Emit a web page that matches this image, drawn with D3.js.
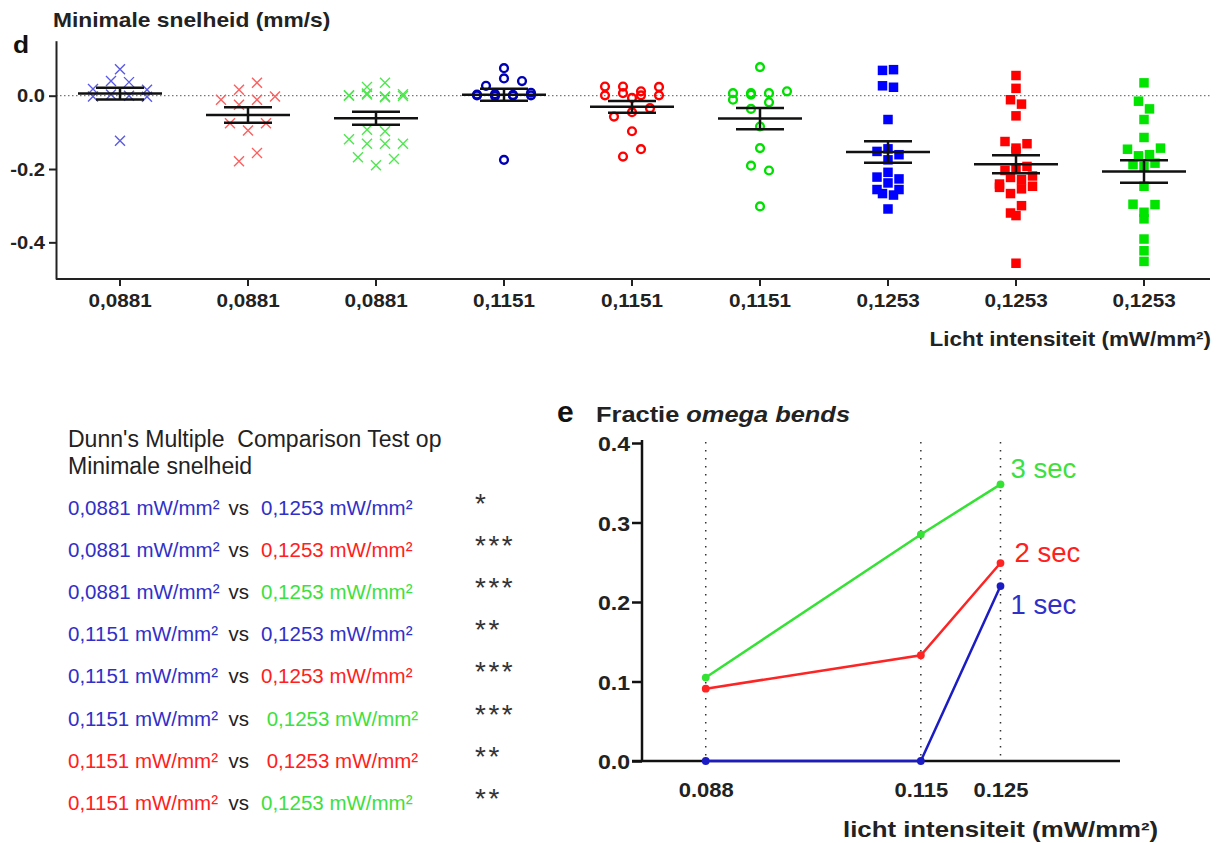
<!DOCTYPE html>
<html>
<head>
<meta charset="utf-8">
<script src="https://cdnjs.cloudflare.com/ajax/libs/d3/7.8.5/d3.min.js"></script>
<style>
  body { margin: 0; background: #fff; }
  svg { display: block; }
  text { font-family: "Liberation Sans", Arial, sans-serif; }
</style>
</head>
<body>
<div id="chart"></div>
<script>
// ---- panel d: minimale snelheid (mm/s), one array per group ----
const speedLabels = ['0,0881', '0,0881', '0,0881', '0,1151', '0,1151', '0,1151', '0,1253', '0,1253', '0,1253'];
const speedSeries = ['1 sec', '2 sec', '3 sec', '1 sec', '2 sec', '3 sec', '1 sec', '2 sec', '3 sec'];
const speedTicks = [0, -0.2, -0.4];

const speed0881_1s = [0.072, 0.018, 0.040, 0.037, 0.016, -0.002, 0.003, 0.000, -0.003, -0.123];
const speed0881_2s = [0.016, 0.035, -0.011, -0.025, -0.011, -0.002, -0.075, -0.095, -0.075, -0.179, -0.156];
const speed0881_3s = [0.024, 0.035, 0.001, 0.006, -0.002, 0.004, 0.000, 0.003, -0.004, -0.001,
                      -0.093, -0.097, -0.119, -0.131, -0.131, -0.131, -0.168, -0.190, -0.173];
const speed1151_1s = [0.075, 0.027, 0.047, 0.040, 0.001, 0.004, 0.002, 0.008, 0.003, -0.001, 0.000, 0.001, -0.175];
const speed1151_2s = [0.025, 0.025, 0.012, 0.024, 0.001, 0.007, 0.001, 0.001, -0.006,
                      -0.057, -0.045, -0.034, -0.097, -0.166, -0.146];
const speed1151_3s = [0.078, 0.007, 0.007, 0.007, 0.012, -0.011, 0.003, -0.036, -0.018,
                      -0.084, -0.143, -0.191, -0.204, -0.302];
const speed1253_1s = [0.069, 0.071, 0.027, 0.023, -0.065, -0.152, -0.145, -0.161, -0.175,
                      -0.222, -0.209, -0.227, -0.256, -0.238, -0.256, -0.267, -0.271, -0.309];
const speed1253_2s = [0.055, 0.020, -0.011, -0.023, -0.055, -0.125, -0.143, -0.131, -0.152,
                      -0.204, -0.197, -0.193, -0.241, -0.223, -0.229, -0.219, -0.250, -0.267,
                      -0.254, -0.247, -0.320, -0.300, -0.327, -0.457];
const speed1253_3s = [0.035, -0.015, -0.036, -0.065, -0.114, -0.146, -0.164, -0.161, -0.143,
                      -0.188, -0.193, -0.184, -0.247, -0.296, -0.318, -0.297, -0.336, -0.391,
                      -0.423, -0.452];
const speedGroups = [speed0881_1s, speed0881_2s, speed0881_3s,
                     speed1151_1s, speed1151_2s, speed1151_3s,
                     speed1253_1s, speed1253_2s, speed1253_3s];

// ---- Dunn's test table ----
const dunnFrom       = ['0,0881', '0,0881', '0,0881', '0,1151', '0,1151', '0,1151', '0,1151', '0,1151'];
const dunnFromSeries = ['1 sec', '1 sec', '1 sec', '1 sec', '1 sec', '1 sec', '2 sec', '2 sec'];
const dunnTo         = ['0,1253', '0,1253', '0,1253', '0,1253', '0,1253', ' 0,1253', ' 0,1253', '0,1253'];
const dunnToSeries   = ['1 sec', '2 sec', '3 sec', '1 sec', '2 sec', '3 sec', '2 sec', '3 sec'];
const dunnStars      = ['*', '***', '***', '**', '***', '***', '**', '**'];

// ---- panel e: fractie omega bends ----
const omegaIntensity = [0.088, 0.115, 0.125];
const omegaTicks = [0, 0.1, 0.2, 0.3, 0.4];
const omega1s = [0, 0, 0.220];
const omega2s = [0.091, 0.133, 0.249];
const omega3s = [0.105, 0.285, 0.348];

// ---- styles ----
const markerColor = {
  cross:  { '1 sec': '#5a5ae4', '2 sec': '#ff5e5e', '3 sec': '#50e650' },
  circle: { '1 sec': '#0000b4', '2 sec': '#ff0000', '3 sec': '#00e000' },
  square: { '1 sec': '#0000ff', '2 sec': '#ff0000', '3 sec': '#00e400' }
};
const markerShape = { '0,0881': 'cross', '0,1151': 'circle', '0,1253': 'square' };
const textColor = { '1 sec': '#3030c8', '2 sec': '#ff2020', '3 sec': '#3ee03e' };
const lineColor = { '1 sec': '#1c1cc4', '2 sec': '#ff2424', '3 sec': '#34e234' };

const W = 1217, H = 843;
const svg = d3.select('#chart').append('svg').attr('width', W).attr('height', H);

// text helper: Arial-like glyphs stretched a little sideways like the original export
function label(parent, x, y, str, o) {
  return parent.append('text')
    .attr('transform', `translate(${x},${y}) scale(${o.sx || 1},1)`)
    .attr('text-anchor', o.anchor || 'start')
    .attr('font-size', o.size)
    .attr('font-weight', o.weight || 'normal')
    .attr('fill', o.fill || '#222')
    .style('white-space', 'pre')
    .text(str);
}

// simple GraphPad-like column scatter: rows of near-equal values spread sideways
function swarm(values, binH, step) {
  const order = d3.range(values.length).sort((a, b) => values[b] - values[a] || a - b);
  const rows = [];
  let cur = null;
  order.forEach(i => {
    if (!cur || cur.top - values[i] >= binH - 1e-9) { cur = { top: values[i], idx: [] }; rows.push(cur); }
    cur.idx.push(i);
  });
  const offs = new Array(values.length).fill(0);
  rows.forEach(r => {
    r.idx.sort((a, b) => a - b);
    const k = Math.min(r.idx.length, 4);
    r.idx.forEach((i, j) => { offs[i] = ((j % k) - (k - 1) / 2) * step; });
  });
  return offs;
}

// ================= panel d =================
const xs = d3.scaleBand().domain(d3.range(speedGroups.length)).range([56, 1208]);
const ys = d3.scaleLinear().domain([-0.5, 0.15]).range([279, 40.7]);

// zero reference line
svg.append('line')
  .attr('x1', 56).attr('x2', 1210).attr('y1', ys(0)).attr('y2', ys(0))
  .attr('stroke', '#777').attr('stroke-width', 1.2).attr('stroke-dasharray', '1.5,2.5');

const pts = svg.append('g');
speedGroups.forEach((vals, gi) => {
  const shape = markerShape[speedLabels[gi]];
  const col = markerColor[shape][speedSeries[gi]];
  const cx = xs(gi) + xs.bandwidth() / 2;
  const offs = swarm(vals, 0.025, shape === 'square' ? 11 : 18);
  vals.forEach((v, i) => {
    const x = cx + offs[i], y = ys(v);
    if (shape === 'cross') {
      const s = 5;
      pts.append('path')
        .attr('d', `M${x - s},${y - s}L${x + s},${y + s}M${x - s},${y + s}L${x + s},${y - s}`)
        .attr('stroke', col).attr('stroke-width', 1.4).attr('fill', 'none');
    } else if (shape === 'circle') {
      pts.append('circle').attr('cx', x).attr('cy', y).attr('r', 3.9)
        .attr('fill', 'none').attr('stroke', col).attr('stroke-width', 2.4);
    } else {
      pts.append('rect').attr('x', x - 4.75).attr('y', y - 4.75)
        .attr('width', 9.5).attr('height', 9.5).attr('fill', col);
    }
  });

  // mean with SEM
  const m = d3.mean(vals), sem = d3.deviation(vals) / Math.sqrt(vals.length);
  const bars = svg.append('g').attr('stroke', '#111').attr('stroke-width', 2.5);
  bars.append('line').attr('x1', cx - 42).attr('x2', cx + 42).attr('y1', ys(m)).attr('y2', ys(m));
  bars.append('line').attr('x1', cx).attr('x2', cx).attr('y1', ys(m - sem)).attr('y2', ys(m + sem));
  [m - sem, m + sem].forEach(v => {
    bars.append('line').attr('x1', cx - 24).attr('x2', cx + 24).attr('y1', ys(v)).attr('y2', ys(v));
  });
});

// axes panel d
const yAxD = svg.append('g').attr('transform', 'translate(56,0)')
  .call(d3.axisLeft(ys).tickValues(speedTicks).tickSize(7).tickSizeOuter(0)
    .tickFormat(d => d.toFixed(1)));
const xAxD = svg.append('g').attr('transform', 'translate(0,279)')
  .call(d3.axisBottom(xs).tickSize(7).tickSizeOuter(0).tickFormat(i => speedLabels[i]));
[yAxD, xAxD].forEach(a => {
  a.attr('font-size', null).attr('font-family', null);
  a.selectAll('path,line').attr('stroke', '#222').attr('stroke-width', 2);
  a.selectAll('text').attr('font-weight', 'bold').attr('fill', '#222').attr('x', 0).attr('y', 0).attr('dy', null);
});
xAxD.select('.domain').attr('d', 'M56,0H1210');
yAxD.selectAll('text').attr('font-size', 17.5).attr('transform', 'translate(-11,6.3) scale(1.15,1)');
xAxD.selectAll('text').attr('font-size', 18).attr('transform', 'translate(0,28) scale(1.15,1)');

label(svg, 53, 27.3, 'Minimale snelheid (mm/s)', { size: 20, weight: 'bold', sx: 1.14 });
label(svg, 13, 52.7, 'd', { size: 24, weight: 'bold', sx: 1.1, fill: '#111' });
label(svg, 1211, 346, 'Licht intensiteit (mW/mm²)', { size: 19.5, weight: 'bold', sx: 1.15, anchor: 'end' });

// ================= Dunn's table =================
const tbl = svg.append('g');
label(tbl, 68, 446.7, "Dunn's Multiple  Comparison Test op", { size: 23, fill: '#222' });
label(tbl, 68, 474, 'Minimale snelheid', { size: 23, fill: '#222' });
dunnFrom.forEach((f, i) => {
  const yb = 515 + 42.1 * i;
  label(tbl, 68, yb, `${f} mW/mm²`, { size: 20.5, fill: textColor[dunnFromSeries[i]] });
  label(tbl, 228.6, yb, 'vs', { size: 20.5, fill: '#222' });
  label(tbl, 261, yb, `${dunnTo[i]} mW/mm²`, { size: 20.5, fill: textColor[dunnToSeries[i]] });
  label(tbl, 475, yb - 2, dunnStars[i], { size: 28, fill: '#333' }).attr('letter-spacing', 2.5);
});

// ================= panel e =================
const xo = d3.scaleLinear().domain([0.08, 0.14]).range([642, 1120]);
const yo = d3.scaleLinear().domain([0, 0.4]).range([761, 443]);

omegaIntensity.forEach(v => {
  svg.append('line').attr('x1', xo(v)).attr('x2', xo(v)).attr('y1', 442).attr('y2', 761)
    .attr('stroke', '#333').attr('stroke-width', 1.5).attr('stroke-dasharray', '1.6,6.4');
});

const yAxE = svg.append('g').attr('transform', 'translate(642,0)')
  .call(d3.axisLeft(yo).tickValues(omegaTicks).tickSize(10).tickSizeOuter(0)
    .tickFormat(d => d.toFixed(1)));
const xAxE = svg.append('g').attr('transform', 'translate(0,761)')
  .call(d3.axisBottom(xo).tickValues(omegaIntensity).tickSize(0).tickSizeOuter(0)
    .tickFormat(d => d.toFixed(3)));
[yAxE, xAxE].forEach(a => {
  a.attr('font-size', null).attr('font-family', null);
  a.selectAll('path,line').attr('stroke', '#111').attr('stroke-width', 2.5);
  a.selectAll('text').attr('font-weight', 'bold').attr('fill', '#222').attr('x', 0).attr('y', 0).attr('dy', null);
});
yAxE.select('.domain').attr('d', 'M0,761V440');
xAxE.select('.domain').attr('d', 'M632,0H1120');
yAxE.selectAll('text').attr('font-size', 21).attr('transform', 'translate(-12,7.5) scale(1.1,1)');
xAxE.selectAll('text').attr('font-size', 20).attr('transform', 'translate(0,36) scale(1.1,1)');

const omegaSeries = [
  { key: '1 sec', vals: omega1s, dx: 10, dy: 28 },
  { key: '2 sec', vals: omega2s, dx: 14, dy: -1 },
  { key: '3 sec', vals: omega3s, dx: 10, dy: -6 }
];
const line = d3.line().x((d, i) => xo(omegaIntensity[i])).y(d => yo(d));
omegaSeries.forEach(s => {
  svg.append('path').datum(s.vals).attr('d', line)
    .attr('fill', 'none').attr('stroke', lineColor[s.key]).attr('stroke-width', 2.5);
  svg.append('g').selectAll('circle').data(s.vals).enter().append('circle')
    .attr('cx', (d, i) => xo(omegaIntensity[i])).attr('cy', d => yo(d)).attr('r', 3.9)
    .attr('fill', lineColor[s.key]);
  const last = s.vals.length - 1;
  label(svg, xo(omegaIntensity[last]) + s.dx, yo(s.vals[last]) + s.dy, s.key,
    { size: 27.5, fill: textColor[s.key] });
});

label(svg, 557, 421.7, 'e', { size: 30, weight: 'bold', fill: '#111' });
const te = label(svg, 596, 421.7, 'Fractie ', { size: 22, weight: 'bold', sx: 1.155 });
te.append('tspan').attr('font-style', 'italic').text('omega bends');
label(svg, 843, 837, 'licht intensiteit (mW/mm²)', { size: 21.5, weight: 'bold', sx: 1.2 });
</script>
</body>
</html>
